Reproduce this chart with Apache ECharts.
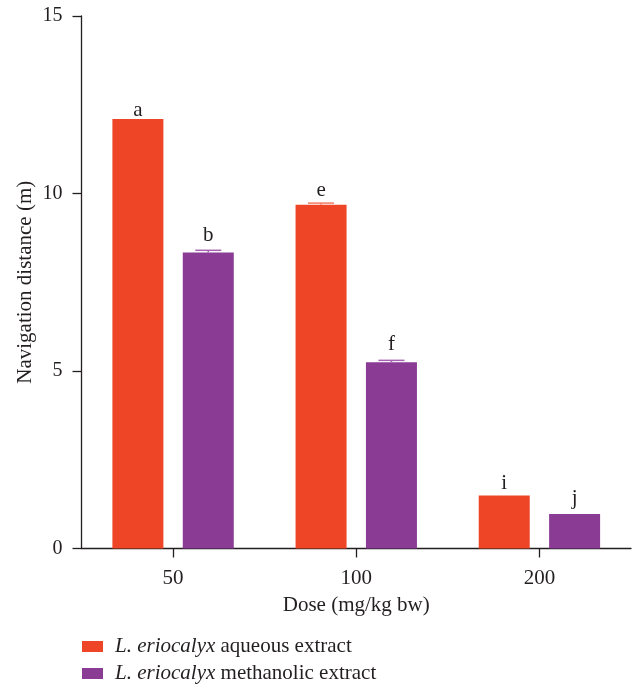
<!DOCTYPE html>
<html>
<head>
<meta charset="utf-8">
<script src="https://cdn.jsdelivr.net/npm/echarts@6/dist/echarts.min.js"></script>
<style>html,body{margin:0;padding:0;background:#fff}#c{width:634px;height:686px}</style>
</head>
<body>
<div id="c"></div>
<script>
const categories = ['50', '100', '200'];
const aqueous = [12.10, 9.68, 1.49];
const aqueousErr = [0, 0.05, 0];
const aqueousLetters = ['a', 'e', 'i'];
const methanolic = [8.34, 5.25, 0.97];
const methanolicErr = [0.06, 0.05, 0];
const methanolicLetters = ['b', 'f', 'j'];
const yTicks = [0, 5, 10, 15];
const seriesNames = ['L. eriocalyx aqueous extract', 'L. eriocalyx methanolic extract'];

// layout / style
const FONT = '"Liberation Serif", "DejaVu Serif", serif';
const TXT = '#231f20';
const RED = '#ee4527';
const PURPLE = '#8a3b93';
const BAR_W = 51;
const BAR_GAP_PX = 19.4;
const aqLabelDist = [-2, 4, 2];
const meLabelDist = [6, 7, 5];

function barData(vals, letters, dists) {
  return vals.map((v, i) => ({
    value: v,
    label: { show: true, formatter: letters[i], distance: dists[i] }
  }));
}

function errSeries(vals, errs, sign, color) {
  return {
    type: 'custom',
    silent: true,
    z: 5,
    data: vals.map((v, i) => [i, v, errs[i]]),
    renderItem: function (params, api) {
      const err = api.value(2);
      if (!err) return null;
      const c = api.coord([api.value(0), api.value(1)]);
      const t = api.coord([api.value(0), api.value(1) + err]);
      const cx = c[0] + sign * (BAR_W + BAR_GAP_PX) / 2;
      return {
        type: 'group',
        children: [
          { type: 'line', shape: { x1: cx - 13, y1: t[1], x2: cx + 13, y2: t[1] }, style: { stroke: color, lineWidth: 1.5 } },
          { type: 'line', shape: { x1: cx, y1: t[1], x2: cx, y2: c[1] }, style: { stroke: color, lineWidth: 1.5 } }
        ]
      };
    }
  };
}

const chart = echarts.init(document.getElementById('c'), null, { renderer: 'canvas' });
chart.setOption({
  animation: false,
  backgroundColor: '#fff',
  textStyle: { fontFamily: FONT, color: TXT },
  grid: { left: 81.5, right: 3, top: 16, bottom: 137.5, containLabel: false },
  legend: {
    orient: 'vertical',
    left: 82,
    top: 636,
    bottom: 0,
    padding: 0,
    itemWidth: 21,
    itemHeight: 11,
    itemGap: 6,
    icon: 'rect',
    data: seriesNames,
    formatter: function (name) {
      const parts = name.split(' ');
      return '{it|' + parts[0] + ' ' + parts[1] + '} ' + parts.slice(2).join(' ');
    },
    textStyle: {
      fontFamily: FONT, fontSize: 21, color: TXT, padding: [0, 0, 0, 7],
      rich: { it: { fontFamily: FONT, fontSize: 21, fontStyle: 'italic', color: TXT } }
    }
  },
  xAxis: {
    type: 'category',
    data: categories,
    name: 'Dose (mg/kg bw)',
    nameLocation: 'middle',
    nameGap: 46,
    nameMoveOverlap: false,
    nameTextStyle: { fontFamily: FONT, fontSize: 21, color: TXT },
    axisLine: { show: true, lineStyle: { color: TXT, width: 1.3 } },
    axisTick: { show: true, alignWithLabel: true, length: 9, lineStyle: { color: TXT, width: 1.3 } },
    axisLabel: { margin: 19, fontFamily: FONT, fontSize: 21, color: TXT },
    splitLine: { show: false }
  },
  yAxis: {
    type: 'value',
    min: yTicks[0],
    max: yTicks[yTicks.length - 1],
    interval: yTicks[1] - yTicks[0],
    name: 'Navigation distance (m)',
    nameLocation: 'middle',
    nameGap: 46,
    nameMoveOverlap: false,
    nameTextStyle: { fontFamily: FONT, fontSize: 21, color: TXT },
    axisLine: { show: true, lineStyle: { color: TXT, width: 1.3 } },
    axisTick: { show: true, inside: false, length: 9, lineStyle: { color: TXT, width: 1.3 } },
    axisLabel: { margin: 19, fontFamily: FONT, fontSize: 20, color: TXT },
    splitLine: { show: false }
  },
  series: [
    {
      name: seriesNames[0],
      type: 'bar',
      barWidth: BAR_W,
      barGap: (BAR_GAP_PX / BAR_W * 100).toFixed(1) + '%',
      itemStyle: { color: RED },
      label: { position: 'top', fontFamily: FONT, fontSize: 21, color: TXT },
      data: barData(aqueous, aqueousLetters, aqLabelDist)
    },
    {
      name: seriesNames[1],
      type: 'bar',
      barWidth: BAR_W,
      itemStyle: { color: PURPLE },
      label: { position: 'top', fontFamily: FONT, fontSize: 21, color: TXT },
      data: barData(methanolic, methanolicLetters, meLabelDist)
    },
    errSeries(aqueous, aqueousErr, -1, '#f47a62'),
    errSeries(methanolic, methanolicErr, 1, '#a862b2')
  ]
});
</script>
</body>
</html>
